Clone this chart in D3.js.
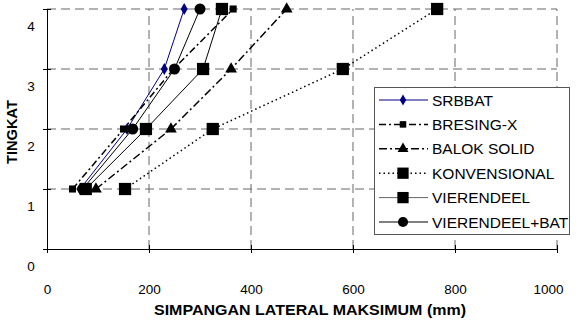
<!DOCTYPE html>
<html><head><meta charset="utf-8">
<script src="https://cdn.jsdelivr.net/npm/d3@7"></script>
<style>body{margin:0;background:#fff}svg{display:block;font-family:Arial,"Liberation Sans",sans-serif}</style>
</head><body><svg id="c" width="576" height="326"></svg>
<script>
const floors = [1, 2, 3, 4];
const srbbat = [65, 157, 230, 269];
const bresingX = [50, 150, 248, 365];
const balokSolid = [96, 243, 361, 470];
const konvensional = [153, 325, 580, 765];
const vierendeel = [76, 194, 306, 343];
const vierendeelBat = [70, 168, 250, 300];
const xTicks = [0, 200, 400, 600, 800, 1000];
const yTicks = [0, 1, 2, 3, 4];
const seriesNames = ["SRBBAT", "BRESING-X", "BALOK SOLID", "KONVENSIONAL", "VIERENDEEL", "VIERENDEEL+BAT"];

const series = [
  {name: seriesNames[0], values: srbbat, color: "#000080", width: 1, dash: null, marker: "diamond", size: 42},
  {name: seriesNames[1], values: bresingX, color: "#000", width: 1.5, dash: "7,3,2,3", marker: "square", size: 50},
  {name: seriesNames[2], values: balokSolid, color: "#000", width: 1.5, dash: "8,3,2,3", marker: "triangle", size: 60},
  {name: seriesNames[3], values: konvensional, color: "#000", width: 1.5, dash: "1.5,3", marker: "square", size: 150},
  {name: seriesNames[4], values: vierendeel, color: "#000", width: 1, dash: null, marker: "square", size: 150},
  {name: seriesNames[5], values: vierendeelBat, color: "#000", width: 1, dash: null, marker: "circle", size: 95}
];
const legendLineColor = ["#000080", "#000", "#000", "#000", "#666", "#000"];

const svg = d3.select("#c");
const x = d3.scaleLinear().domain([0, 1000]).range([47, 557]);
const y = d3.scaleLinear().domain([0, 4]).range([249, 9]);

// gridlines
const grid = svg.append("g").attr("stroke", "#666").attr("stroke-width", 1).attr("stroke-dasharray", "9,5");
grid.selectAll("line.h").data(yTicks.filter(d => d > 0)).join("line")
  .attr("x1", x(0)).attr("x2", x(1000)).attr("y1", d => y(d)).attr("y2", d => y(d));
grid.selectAll("line.v").data(xTicks.filter(d => d > 0)).join("line")
  .attr("x1", d => x(d)).attr("x2", d => x(d)).attr("y1", y(0)).attr("y2", y(4));

// axes
const xAxis = svg.append("g").attr("transform", `translate(0,${y(0)})`)
  .call(d3.axisBottom(x).tickValues(xTicks).tickSize(4).tickFormat(d3.format("d")));
xAxis.select(".domain").attr("stroke", "#000");
xAxis.selectAll(".tick line").attr("y1", -4).attr("y2", 4).attr("stroke", "#000");
xAxis.selectAll(".tick text").attr("y", 45).attr("dy", 0).attr("font-size", 13.5).attr("fill", "#000")
  .attr("text-anchor", d => d === 1000 ? "end" : "middle").attr("dx", d => d === 1000 ? 6 : 0)
  .style("font-family", "Arial, 'Liberation Sans', sans-serif");

const yAxis = svg.append("g").attr("transform", `translate(${x(0)},0)`)
  .call(d3.axisLeft(y).tickValues(yTicks).tickSize(4).tickFormat(d3.format("d")));
yAxis.select(".domain").attr("stroke", "#000");
yAxis.selectAll(".tick line").attr("x1", -4).attr("x2", 4).attr("stroke", "#000");
yAxis.selectAll(".tick text").attr("x", -16).attr("y", 17).attr("dy", "0.35em").attr("text-anchor", "middle")
  .attr("font-size", 13.5).attr("fill", "#000").style("font-family", "Arial, 'Liberation Sans', sans-serif");

// axis titles
svg.append("text").attr("x", 310).attr("y", 315).attr("text-anchor", "middle")
  .attr("font-weight", "bold").attr("font-size", 14).attr("textLength", 312).attr("lengthAdjust", "spacingAndGlyphs")
  .text("SIMPANGAN LATERAL MAKSIMUM (mm)");
svg.append("text").attr("transform", "translate(17,132) rotate(-90)").attr("text-anchor", "middle")
  .attr("font-weight", "bold").attr("font-size", 14).attr("textLength", 64).attr("lengthAdjust", "spacingAndGlyphs")
  .text("TINGKAT");

const symType = {diamond: d3.symbolDiamond, square: d3.symbolSquare, triangle: d3.symbolTriangle, circle: d3.symbolCircle};
const line = d3.line().x(d => x(d[0])).y(d => y(d[1]));

series.forEach(s => {
  const pts = s.values.map((v, i) => [v, floors[i]]);
  svg.append("path").datum(pts).attr("d", line).attr("fill", "none")
    .attr("stroke", s.color).attr("stroke-width", s.width).attr("stroke-dasharray", s.dash);
  svg.append("g").selectAll("path").data(pts).join("path")
    .attr("transform", d => `translate(${x(d[0])},${y(d[1])})`)
    .attr("d", d3.symbol().type(symType[s.marker]).size(s.size))
    .attr("fill", s.color);
});

// legend
const lg = svg.append("g");
lg.append("rect").attr("x", 374.5).attr("y", 87.5).attr("width", 195).attr("height", 147)
  .attr("fill", "#fff").attr("stroke", "#555");
series.forEach((s, i) => {
  const cy = 100 + i * 24.4;
  lg.append("line").attr("x1", 379).attr("x2", 428).attr("y1", cy).attr("y2", cy)
    .attr("stroke", legendLineColor[i]).attr("stroke-width", s.width).attr("stroke-dasharray", s.dash);
  lg.append("path").attr("transform", `translate(403,${cy})`)
    .attr("d", d3.symbol().type(symType[s.marker]).size(s.size * 0.85)).attr("fill", s.color);
  lg.append("text").attr("x", 432).attr("y", cy).attr("dy", "0.36em").attr("font-size", 15.5).text(s.name);
});
</script></body></html>
